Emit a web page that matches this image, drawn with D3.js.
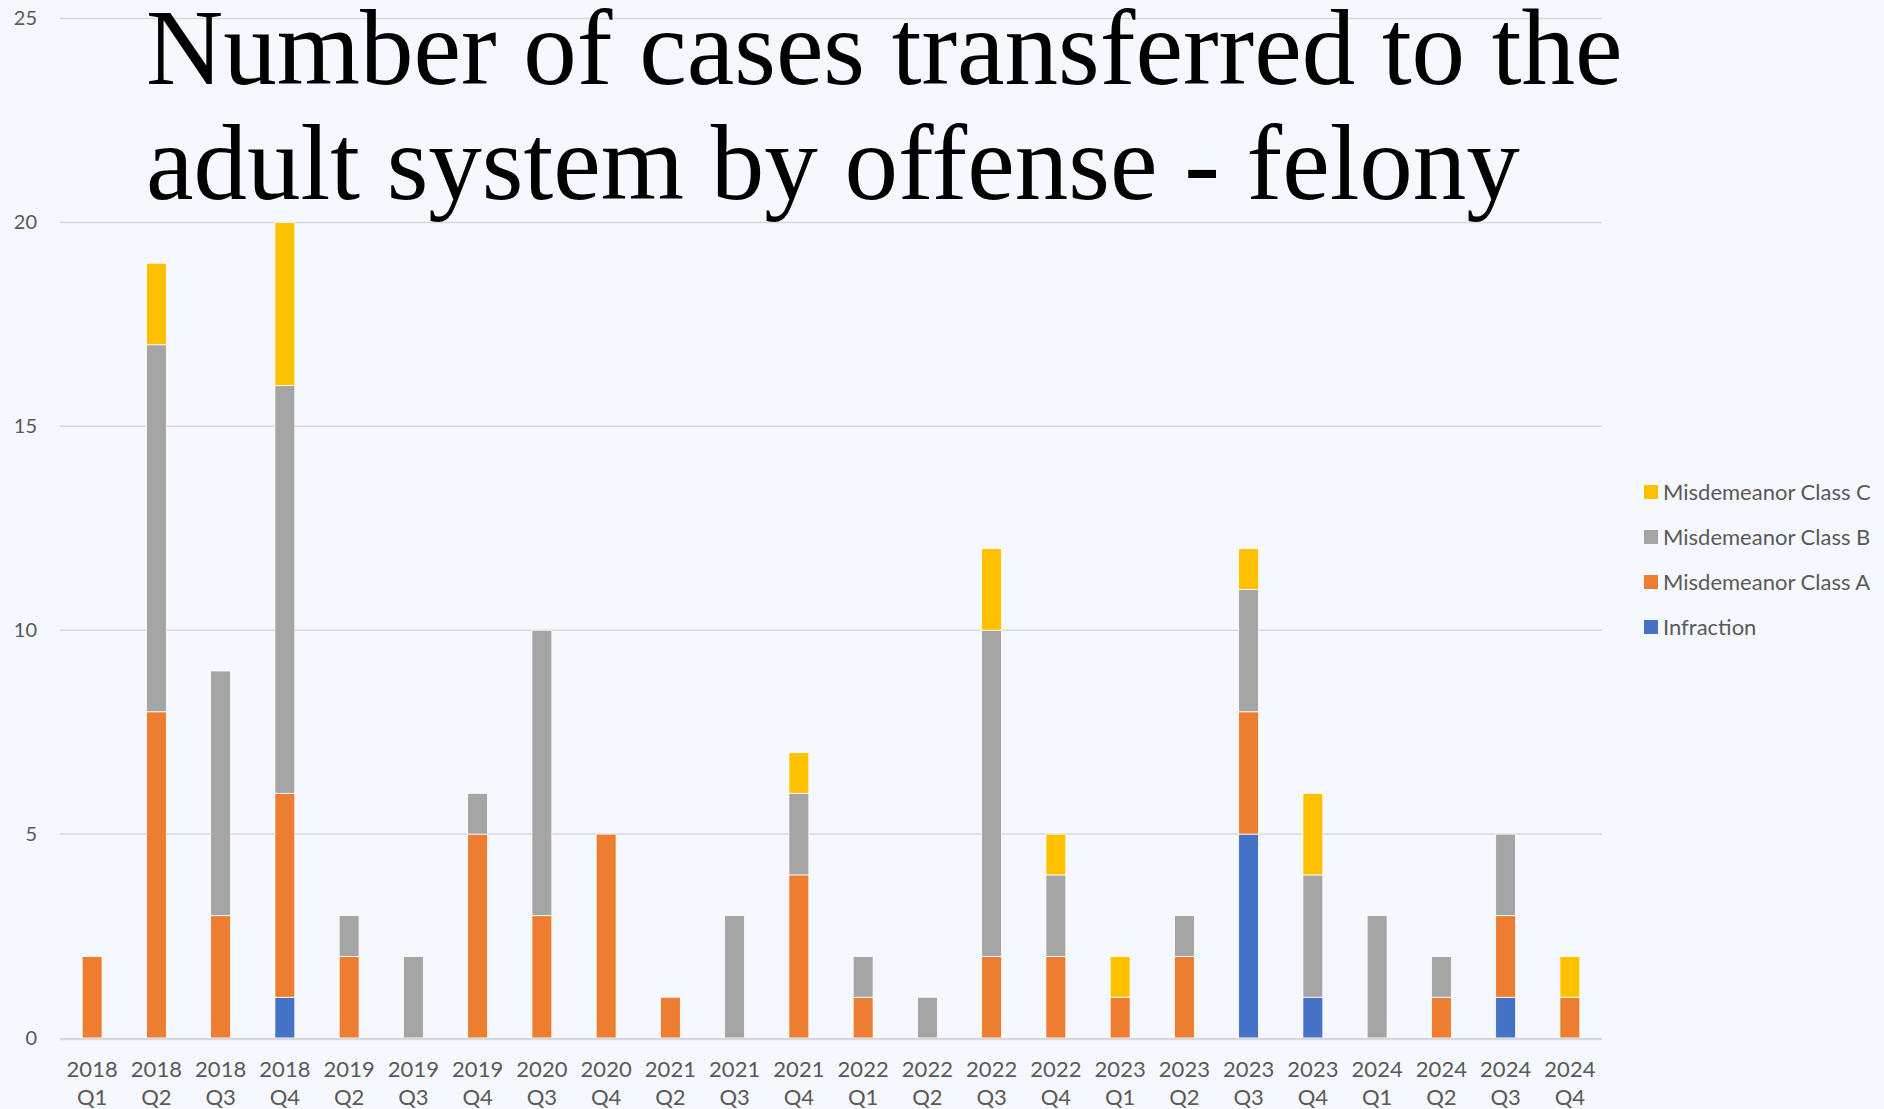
<!DOCTYPE html>
<html>
<head>
<meta charset="utf-8">
<script src="https://cdn.jsdelivr.net/npm/d3@7"></script>
<style>
  html, body { margin: 0; padding: 0; background: #F5F8FE; }
  svg { display: block; }
</style>
</head>
<body>
<svg id="chart" width="1884" height="1109"></svg>
<script>
// quarters shown on the x axis
const quarters = [
  '2018 Q1', '2018 Q2', '2018 Q3', '2018 Q4', '2019 Q2', '2019 Q3', '2019 Q4', '2020 Q3',
  '2020 Q4', '2021 Q2', '2021 Q3', '2021 Q4', '2022 Q1', '2022 Q2', '2022 Q3', '2022 Q4',
  '2023 Q1', '2023 Q2', '2023 Q3', '2023 Q4', '2024 Q1', '2024 Q2', '2024 Q3', '2024 Q4'
];

// series values, one per quarter
const infraction = [0, 0, 0, 1, 0, 0, 0, 0, 0, 0, 0, 0, 0, 0, 0, 0, 0, 0, 5, 1, 0, 0, 1, 0];
const classA =     [2, 8, 3, 5, 2, 0, 5, 3, 5, 1, 0, 4, 1, 0, 2, 2, 1, 2, 3, 0, 0, 1, 2, 1];
const classB =     [0, 9, 6, 10, 1, 2, 1, 7, 0, 0, 3, 2, 1, 1, 8, 2, 0, 1, 3, 3, 3, 1, 2, 0];
const classC =     [0, 2, 0, 4, 0, 0, 0, 0, 0, 0, 0, 1, 0, 0, 2, 1, 1, 0, 1, 2, 0, 0, 0, 1];

const seriesKeys = ['Infraction', 'Misdemeanor Class A', 'Misdemeanor Class B', 'Misdemeanor Class C'];
const seriesColors = ['#4472C4', '#ED7D31', '#A5A5A5', '#FFC000'];
const yTicks = [0, 5, 10, 15, 20, 25];

const titleLines = ['Number of cases transferred to the', 'adult system by offense - felony'];

// build rows for d3.stack
const rows = quarters.map((q, i) => ({
  quarter: q,
  'Infraction': infraction[i],
  'Misdemeanor Class A': classA[i],
  'Misdemeanor Class B': classB[i],
  'Misdemeanor Class C': classC[i]
}));

const svg = d3.select('#chart');

const x = d3.scaleBand()
  .domain(quarters)
  .range([60, 1602])
  .paddingInner(0.69)
  .paddingOuter(0.345);

const y = d3.scaleLinear()
  .domain([0, 25])
  .range([1038, 18.5]);

const color = d3.scaleOrdinal().domain(seriesKeys).range(seriesColors);

// gridlines
svg.append('g')
  .selectAll('line')
  .data(yTicks.filter(t => t > 0))
  .join('line')
    .attr('x1', 60)
    .attr('x2', 1602)
    .attr('y1', d => y(d))
    .attr('y2', d => y(d))
    .attr('stroke', '#D9D9D9')
    .attr('stroke-width', 1.5);

// y labels
const yAxis = d3.axisLeft(y).tickValues(yTicks).tickSize(0).tickPadding(0);
svg.append('g')
  .attr('transform', 'translate(37,0)')
  .call(yAxis)
  .call(g => g.select('.domain').remove())
  .selectAll('text')
    .attr('font-family', 'Lato, "Open Sans", sans-serif')
    .attr('font-size', 20)
    .attr('fill', '#595959');

// stacked bars
const stacked = d3.stack().keys(seriesKeys)(rows);

svg.append('g')
  .selectAll('g')
  .data(stacked)
  .join('g')
    .attr('fill', d => color(d.key))
  .selectAll('rect')
  .data(d => d.filter(s => s[1] - s[0] > 0))
  .join('rect')
    .attr('x', d => x(d.data.quarter))
    .attr('width', x.bandwidth())
    .attr('y', d => y(d[1]))
    .attr('height', d => y(d[0]) - y(d[1]))
    .attr('stroke', '#FFFFFF')
    .attr('stroke-width', 0.8);

// baseline
svg.append('line')
  .attr('x1', 60)
  .attr('x2', 1602)
  .attr('y1', y(0) + 1)
  .attr('y2', y(0) + 1)
  .attr('stroke', '#D9D9D9')
  .attr('stroke-width', 2.5);

// x labels, two lines each
const xLab = svg.append('g')
  .selectAll('text')
  .data(quarters)
  .join('text')
    .attr('transform', d => `translate(${x(d) + x.bandwidth() / 2},0)`)
    .attr('text-anchor', 'middle')
    .attr('font-family', 'Lato, "Open Sans", sans-serif')
    .attr('font-size', 22)
    .attr('fill', '#595959');

xLab.append('tspan')
  .attr('x', 0)
  .attr('y', 1077)
  .text(d => d.split(' ')[0]);
xLab.append('tspan')
  .attr('x', 0)
  .attr('y', 1105)
  .text(d => d.split(' ')[1]);

// legend, top entry is Class C
const legend = svg.append('g')
  .selectAll('g')
  .data(seriesKeys.slice().reverse())
  .join('g')
    .attr('transform', (d, i) => `translate(1644,${492 + i * 45})`);

legend.append('rect')
  .attr('x', 0)
  .attr('y', -7)
  .attr('width', 14)
  .attr('height', 14)
  .attr('fill', d => color(d));

legend.append('text')
  .attr('x', 19)
  .attr('y', 8)
  .attr('font-family', 'Lato, "Open Sans", sans-serif')
  .attr('font-size', 22)
  .attr('fill', '#595959')
  .text(d => d);

// title
svg.append('g')
  .selectAll('text')
  .data(titleLines)
  .join('text')
    .attr('x', 146)
    .attr('y', (d, i) => 84 + i * 115)
    .attr('font-family', '"Liberation Serif", "Times New Roman", serif')
    .attr('font-size', 107)
    .attr('fill', '#000000')
    .text(d => d);
</script>
</body>
</html>
